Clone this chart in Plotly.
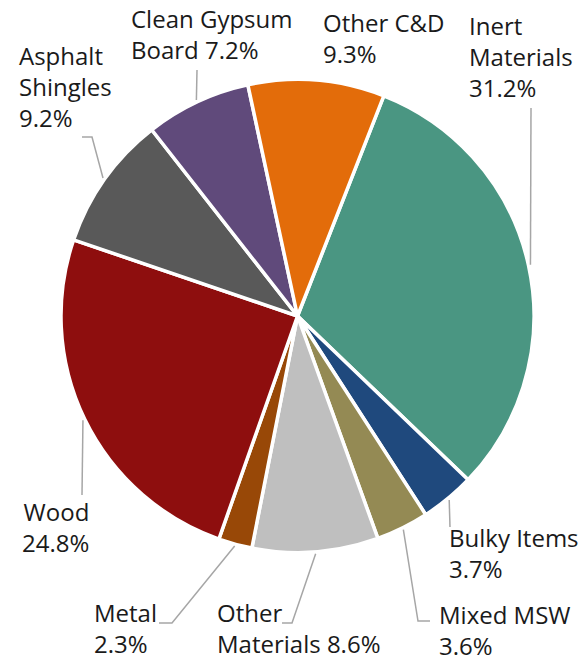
import math
import plotly.graph_objects as go

# ---- data ----
categories = ["Inert Materials", "Bulky Items", "Mixed MSW", "Other Materials", "Metal",
              "Wood", "Asphalt Shingles", "Clean Gypsum Board", "Other C&D"]
values = [31.2, 3.7, 3.6, 8.6, 2.3, 24.8, 9.2, 7.2, 9.3]
label_prefix = ["Inert<br>Materials<br>", "Bulky Items<br>", "Mixed MSW<br>", "Other<br>Materials ",
                "Metal<br>", "Wood<br>", "Asphalt<br>Shingles<br>", "Clean Gypsum<br>Board ", "Other C&D<br>"]
colors = ["#4A9682", "#1F497D", "#948A54", "#BFBFBF", "#984807",
          "#8E0E0E", "#595959", "#604A7B", "#E36C0A"]

W, H = 579, 664
CX, CY, R = 297.5, 316.0, 236.5
ROT = 21.4

# label placement (pixels): x anchor, y middle, align
label_pos = [
    (467, 57, "left"),
    (447, 553, "left"),
    (437, 630, "left"),
    (215, 628, "left"),
    (92, 628, "left"),
    (91, 527, "right"),
    (17, 87, "left"),
    (129, 34, "left"),
    (321, 38, "left"),
]
# leader line elbow points (pixels), from label side; pie-side end computed from data
leader_pts = [
    [(531, 108)],
    [(450, 527)],
    [(430, 621), (418, 621)],
    [(282, 623), (292, 623)],
    [(159, 623), (172, 623)],
    [(82, 495)],
    [(82, 137), (92, 137)],
    [(197, 70)],
    None,
]

def px(x):
    return x / W

def py(y):
    return 1 - y / H

fig = go.Figure(go.Pie(
    labels=categories, values=values, sort=False, direction="clockwise",
    rotation=ROT, textinfo="none", hoverinfo="label+percent",
    marker=dict(colors=colors, line=dict(color="white", width=3.5)),
    domain=dict(x=[px(CX - R), px(CX + R)], y=[py(CY + R), py(CY - R)]),
    showlegend=False,
))

total = sum(values)
cum = 0.0
annotations = []
shapes = []
for i, v in enumerate(values):
    mid = math.radians(ROT + (cum + v / 2) / total * 360)
    cum += v
    ex = CX + (R + 2) * math.sin(mid)
    ey = CY - (R + 2) * math.cos(mid)
    lx, ly, al = label_pos[i]
    annotations.append(dict(
        x=px(lx), y=py(ly), xref="paper", yref="paper",
        xanchor=al, yanchor="middle", align=al, showarrow=False,
        text=f"{label_prefix[i]}{v:.1f}%",
        font=dict(family="Open Sans", size=24, color="#1a1a1a"),
    ))
    if leader_pts[i]:
        pts = leader_pts[i] + [(ex, ey)]
        path = "M " + " L ".join(f"{px(x)},{py(y)}" for x, y in pts)
        shapes.append(dict(type="path", xref="paper", yref="paper", path=path,
                           line=dict(color="#A6A6A6", width=1.5)))

fig.update_layout(
    width=W, height=H, margin=dict(l=0, r=0, t=0, b=0),
    paper_bgcolor="white", plot_bgcolor="white",
    annotations=annotations, shapes=shapes,
)
fig.write_html(
    "out.html",
    config={"displayModeBar": False},
    post_script="document.body.style.margin='0';document.body.style.overflow='hidden';",
)
